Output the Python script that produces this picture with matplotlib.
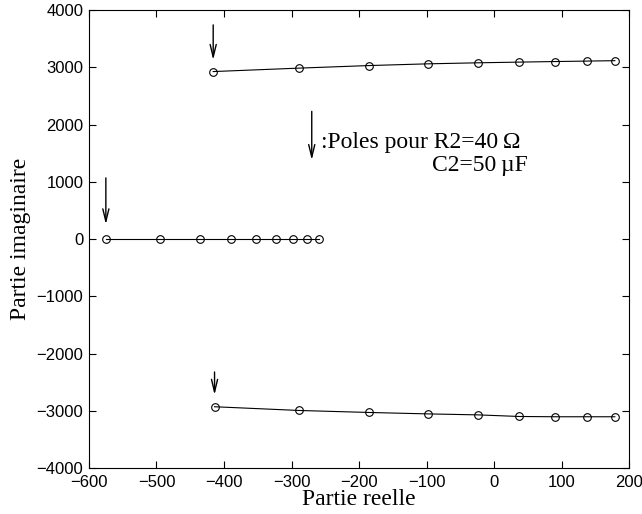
import matplotlib
matplotlib.use("Agg")
import matplotlib.pyplot as plt

upper_re = [-416, -289, -185, -98, -24, 37, 90, 137, 179]
upper_im = [2925, 2985, 3030, 3060, 3078, 3090, 3100, 3108, 3115]

real_re = [-575, -495, -435, -389, -353, -323, -298, -277, -259]
real_im = [0, 0, 0, 0, 0, 0, 0, 0, 0]

lower_re = [-414, -289, -185, -98, -24, 37, 91, 137, 179]
lower_im = [-2930, -2995, -3030, -3055, -3072, -3100, -3105, -3105, -3105]

x_ticks = [-600, -500, -400, -300, -200, -100, 0, 100, 200]
y_ticks = [-4000, -3000, -2000, -1000, 0, 1000, 2000, 3000, 4000]

SERIF = "Liberation Serif"
SANS = "Liberation Sans"

fig = plt.figure(figsize=(6.42, 5.14), dpi=100)
ax = fig.add_axes([0.1386, 0.0895, 0.8412, 0.891])

line_kw = dict(color="black", linewidth=0.8, marker="o", markersize=5.5,
               markerfacecolor="none", markeredgecolor="black", markeredgewidth=0.8)
ax.plot(upper_re, upper_im, **line_kw)
ax.plot(real_re, real_im, **line_kw)
ax.plot(lower_re, lower_im, **line_kw)

arrow = dict(arrowstyle="->,head_length=0.9,head_width=0.22", color="black",
             linewidth=1.0, shrinkA=0)

# Arrows marking the poles for R2=40, C2=50uF (first point of each branch)
for re, im, gap, tail in [(upper_re[0], upper_im[0], 8.4, 33.6),
                          (real_re[0], real_im[0], 10.6, 44),
                          (lower_re[0], lower_im[0], 8.6, 25)]:
    ax.annotate("", xy=(re, im), xytext=(0, tail), textcoords="offset points",
                arrowprops=dict(arrow, shrinkB=gap))

# Annotation key
ax.annotate("", xy=(-270, 1380), xytext=(-270, 2230), arrowprops=dict(arrow, shrinkB=0))
ax.text(-256, 1680, ":Poles pour R2=40\u2009\u03a9", family=SERIF, fontsize=17,
        va="center", ha="left")
ax.text(50, 1290, "C2=50\u2009\u00b5F", family=SERIF, fontsize=17,
        va="center", ha="right")

ax.set_xlim(-600, 200)
ax.set_ylim(-4000, 4000)
ax.set_xticks(x_ticks)
ax.set_yticks(y_ticks)
ax.set_xticklabels([f"{v}".replace("-", "\u2212") for v in x_ticks], family=SANS, fontsize=12)
ax.set_yticklabels([f"{v}".replace("-", "\u2212") for v in y_ticks], family=SANS, fontsize=12)
ax.tick_params(direction="in", length=5, width=0.8, top=True, right=True)
ax.tick_params(axis="x", pad=5)
ax.tick_params(axis="y", pad=4)
for s in ax.spines.values():
    s.set_linewidth(0.8)

ax.set_xlabel("Partie reelle", family=SERIF, fontsize=17)
ax.set_ylabel("Partie imaginaire", family=SERIF, fontsize=17)
ax.xaxis.set_label_coords(0.5, -0.046)
ax.yaxis.set_label_coords(-0.107, 0.5)

fig.savefig("out.png", dpi=100)
